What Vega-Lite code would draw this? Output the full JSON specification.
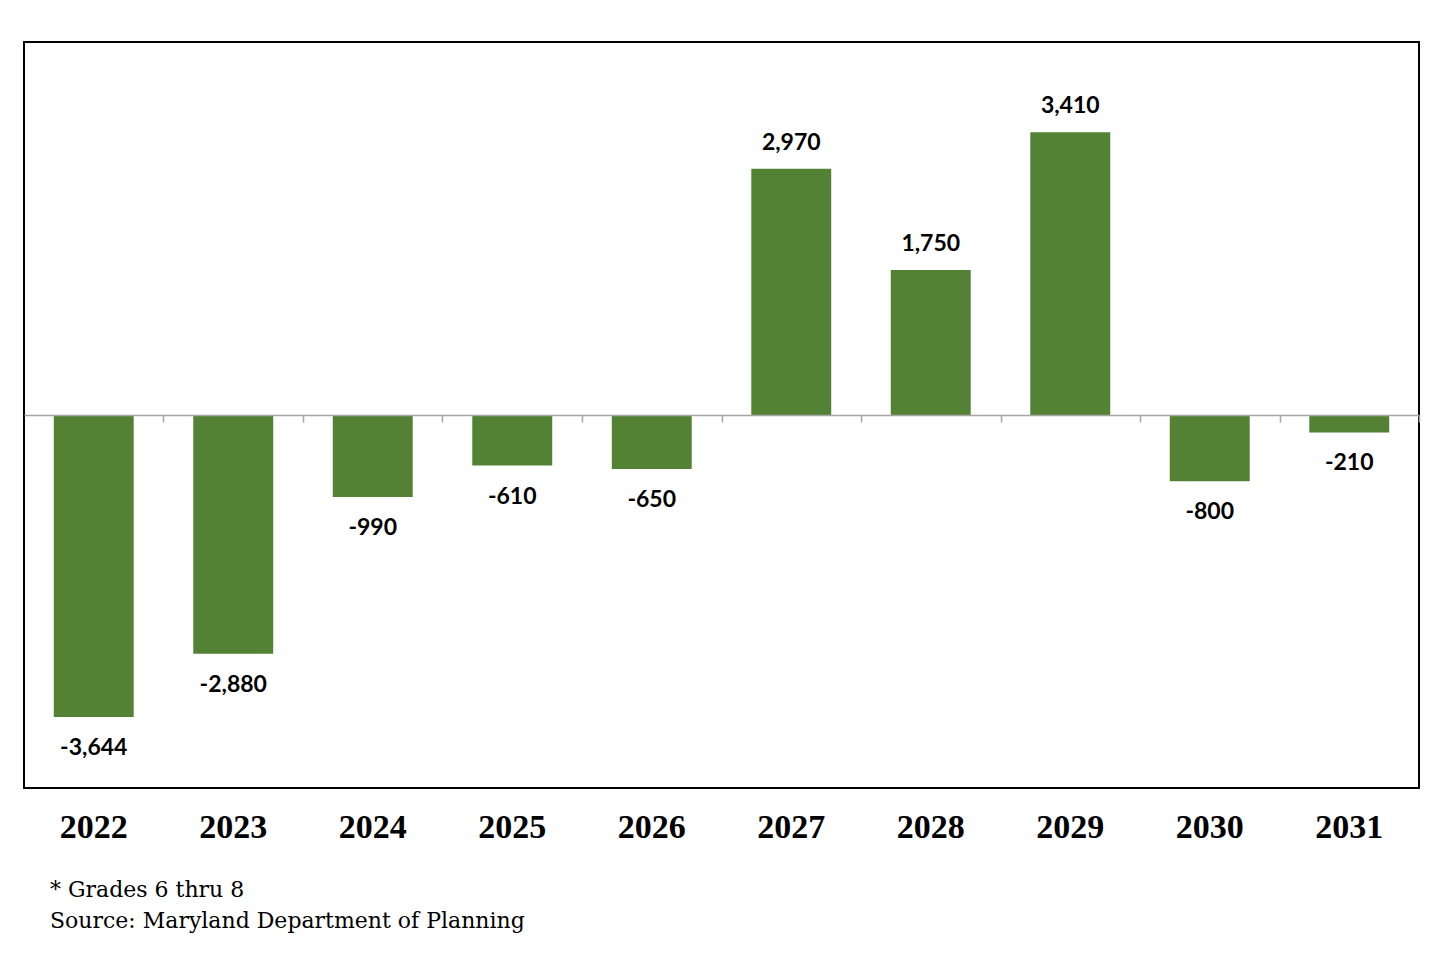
{
  "$schema": "https://vega.github.io/schema/vega-lite/v6.json",
  "width": 1395,
  "height": 746,
  "autosize": {"type": "none"},
  "padding": {"left": 24, "top": 42, "right": 26, "bottom": 172},
  "background": "white",
  "config": {
    "view": {"stroke": "black", "strokeWidth": 2},
    "locale": {"number": {"decimal": ".", "thousands": ",", "grouping": [3], "currency": ["$", ""], "minus": "-"}}
  },
  "data": {"values": [
    {"year": "2022", "change": -3644},
    {"year": "2023", "change": -2880},
    {"year": "2024", "change": -990},
    {"year": "2025", "change": -610},
    {"year": "2026", "change": -650},
    {"year": "2027", "change": 2970},
    {"year": "2028", "change": 1750},
    {"year": "2029", "change": 3410},
    {"year": "2030", "change": -800},
    {"year": "2031", "change": -210}
  ]},
  "title": {
    "text": ["* Grades 6 thru 8", "Source: Maryland Department of Planning"],
    "orient": "bottom",
    "anchor": "start",
    "frame": "group",
    "dx": 26,
    "offset": 36,
    "font": "DejaVu Serif",
    "fontSize": 22,
    "fontWeight": "normal",
    "lineHeight": 31,
    "color": "black"
  },
  "encoding": {
    "x": {
      "field": "year",
      "type": "nominal",
      "sort": null,
      "scale": {"paddingInner": 0.427, "paddingOuter": 0.2135}
    },
    "y": {
      "field": "change",
      "type": "quantitative",
      "scale": {"domain": [-4500, 4500], "nice": false},
      "axis": null
    }
  },
  "layer": [
    {
      "mark": {"type": "bar", "color": "#548235"},
      "encoding": {
        "x": {
          "field": "year",
          "type": "nominal",
          "sort": null,
          "axis": {
            "orient": "bottom",
            "offset": -373,
            "zindex": 1,
            "title": null,
            "labels": false,
            "domain": true,
            "domainColor": "#a6a6a6",
            "domainWidth": 1.5,
            "ticks": true,
            "tickOffset": 69.75,
            "tickColor": "#a6a6a6",
            "tickSize": 7,
            "tickWidth": 1.5,
            "grid": false
          }
        }
      }
    },
    {
      "transform": [{"filter": "datum.change >= 0"}],
      "mark": {"type": "text", "baseline": "bottom", "dy": -14, "font": "Lato", "fontWeight": "bold", "fontSize": 23, "color": "black"},
      "encoding": {
        "x": {
          "field": "year",
          "type": "nominal",
          "sort": null,
          "axis": {
            "orient": "bottom",
            "title": null,
            "domain": false,
            "ticks": false,
            "grid": false,
            "labelAngle": 0,
            "labelPadding": 22,
            "labelFont": "Liberation Serif",
            "labelFontWeight": "bold",
            "labelFontSize": 34,
            "labelColor": "black"
          }
        },
        "text": {"field": "change", "type": "quantitative", "format": ","}
      }
    },
    {
      "transform": [{"filter": "datum.change < 0"}],
      "mark": {"type": "text", "baseline": "top", "dy": 20, "font": "Lato", "fontWeight": "bold", "fontSize": 23, "color": "black"},
      "encoding": {
        "x": {"field": "year", "type": "nominal", "sort": null, "axis": null},
        "text": {"field": "change", "type": "quantitative", "format": ","}
      }
    }
  ],
  "resolve": {"axis": {"x": "independent"}}
}
